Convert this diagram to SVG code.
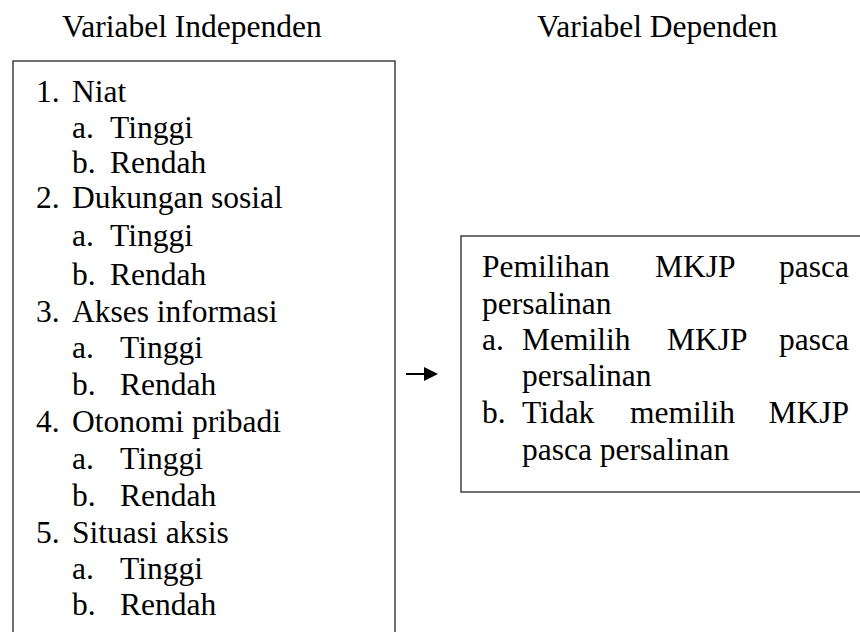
<svg xmlns="http://www.w3.org/2000/svg" width="860" height="632" viewBox="0 0 860 632" font-family="Liberation Serif, Times New Roman, serif">
<style>
text{font-size:31.5px;fill:#000}
.box{fill:#fff;stroke:#333;stroke-width:1.4}
.end{text-anchor:end}
</style>
<rect width="860" height="632" fill="#fff"/>
<g id="title-independen"><text x="62" y="37">Variabel Independen</text></g>
<g id="title-dependen"><text x="537" y="37">Variabel Dependen</text></g>
<g id="node-independen">
<rect class="box" x="13" y="61" width="382" height="590"/>
<text x="36" y="102">1.</text><text x="72" y="102">Niat</text>
<text x="72" y="138">a.</text><text x="110" y="138">Tinggi</text>
<text x="72" y="173">b.</text><text x="110" y="173">Rendah</text>
<text x="36" y="208">2.</text><text x="72" y="208">Dukungan sosial</text>
<text x="72" y="246">a.</text><text x="110" y="246">Tinggi</text>
<text x="72" y="285">b.</text><text x="110" y="285">Rendah</text>
<text x="36" y="322">3.</text><text x="72" y="322">Akses informasi</text>
<text x="72" y="358">a.</text><text x="120" y="358">Tinggi</text>
<text x="72" y="395">b.</text><text x="120" y="395">Rendah</text>
<text x="36" y="432">4.</text><text x="72" y="432">Otonomi pribadi</text>
<text x="72" y="469">a.</text><text x="120" y="469">Tinggi</text>
<text x="72" y="506">b.</text><text x="120" y="506">Rendah</text>
<text x="36" y="543">5.</text><text x="72" y="543">Situasi aksis</text>
<text x="72" y="579">a.</text><text x="120" y="579">Tinggi</text>
<text x="72" y="615">b.</text><text x="120" y="615">Rendah</text>
</g>
<g id="node-dependen">
<rect class="box" x="461" y="236" width="420" height="256"/>
<text x="482" y="277">Pemilihan</text><text x="655" y="277">MKJP</text><text class="end" x="849" y="277">pasca</text>
<text x="482" y="314">persalinan</text>
<text x="482" y="350">a.</text><text x="522" y="350">Memilih</text><text x="667" y="350">MKJP</text><text class="end" x="849" y="350">pasca</text>
<text x="522" y="386">persalinan</text>
<text x="482" y="423">b.</text><text x="522" y="423">Tidak</text><text x="630" y="423">memilih</text><text class="end" x="849" y="423">MKJP</text>
<text x="522" y="460">pasca persalinan</text>
</g>
<g id="connectors">
<line x1="406" y1="374" x2="425" y2="374" stroke="#000" stroke-width="2"/>
<polygon points="424,367 438,374 424,381" fill="#000"/>
</g>
</svg>
